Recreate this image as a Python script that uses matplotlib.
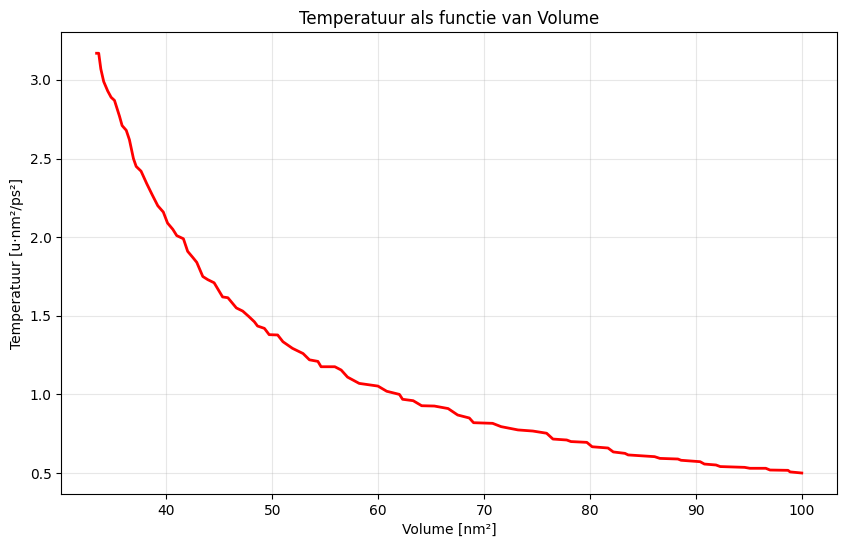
import matplotlib
matplotlib.use("Agg")
import matplotlib.pyplot as plt

volume = [33.4, 33.6, 33.8, 34.07, 34.45, 34.77, 35.09, 35.56, 35.81, 36.2, 36.5,
          36.88, 37.14, 37.6, 38.14, 38.65, 39.18, 39.7, 40.1, 40.6, 40.97, 41.6,
          42.0, 42.5, 42.86, 43.43, 43.9, 44.5, 45.3, 45.8, 46.6, 47.2, 47.8, 48.3,
          48.6, 49.25, 49.7, 50.5, 51.0, 51.9, 52.9, 53.5, 54.3, 54.6, 55.9, 56.5,
          57.1, 58.2, 59.97, 60.8, 62.0, 62.3, 63.3, 64.1, 65.3, 66.6, 67.5, 68.6,
          69.0, 70.8, 71.6, 73.2, 74.6, 75.9, 76.5, 77.8, 78.2, 79.7, 80.2, 81.7,
          82.2, 83.3, 83.6, 86.1, 86.6, 88.3, 88.6, 90.4, 90.8, 91.9, 92.3, 94.6,
          95.1, 96.6, 97.0, 98.7, 98.9, 100.0]
temperature = [3.17, 3.17, 3.07, 2.99, 2.93, 2.89, 2.87, 2.77, 2.71, 2.68, 2.62,
               2.50, 2.45, 2.42, 2.34, 2.27, 2.20, 2.16, 2.09, 2.05, 2.01, 1.99,
               1.91, 1.87, 1.84, 1.75, 1.73, 1.71, 1.62, 1.615, 1.55, 1.53, 1.494, 1.462,
               1.435, 1.42, 1.38, 1.378, 1.335, 1.293, 1.26, 1.22, 1.21, 1.176, 1.176, 1.155,
               1.11, 1.07, 1.053, 1.02, 1.0, 0.969, 0.96, 0.928, 0.926, 0.91, 0.869, 0.85,
               0.82, 0.816, 0.795, 0.774, 0.767, 0.753, 0.716, 0.71, 0.70, 0.695, 0.667, 0.659,
               0.634, 0.625, 0.615, 0.604, 0.593, 0.589, 0.581, 0.572, 0.557, 0.551, 0.541, 0.536,
               0.53, 0.53, 0.519, 0.517, 0.507, 0.50]

fig = plt.figure(figsize=(8.46, 5.47), dpi=100)
ax = fig.add_axes([0.0725, 0.0969, 0.9169, 0.8441])
ax.plot(volume, temperature, color="red", linewidth=2)
ax.set_title("Temperatuur als functie van Volume")
ax.set_xlabel("Volume [nm²]")
ax.set_ylabel("Temperatuur [u·nm²/ps²]")
ax.grid(True, alpha=0.3)
fig.savefig("out.png", dpi=100)
